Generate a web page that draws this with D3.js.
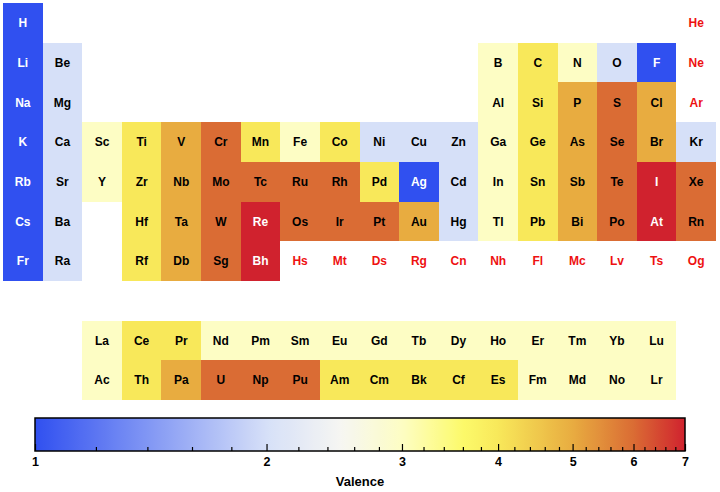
<!DOCTYPE html>
<html lang="en">

<head>
  <meta charset="UTF-8">
  <script src="https://d3js.org/d3.v7.min.js"></script>
  <style>
    html, body {
      padding: 0px;
      margin: 0px;
      background-color: white;
      font-family: "Liberation Sans", Arial, sans-serif;
    }

    .cell-label {
      font-size: 12px;
      font-weight: bold;
    }

    .colorbar .tick text {
      font-size: 12.5px;
      font-weight: bold;
      font-family: "Liberation Sans", Arial, sans-serif;
    }
  </style>
</head>

<body>
  <svg id="plot-svg" width="720" height="492"></svg>

  <script>
    // element data: symbol, group (column), row (8 = f-block gap, 9/10 = Ln/An), valence
    const symbols = [
      "H", "He",
      "Li", "Be", "B", "C", "N", "O", "F", "Ne",
      "Na", "Mg", "Al", "Si", "P", "S", "Cl", "Ar",
      "K", "Ca", "Sc", "Ti", "V", "Cr", "Mn", "Fe", "Co", "Ni", "Cu", "Zn", "Ga", "Ge", "As", "Se", "Br", "Kr",
      "Rb", "Sr", "Y", "Zr", "Nb", "Mo", "Tc", "Ru", "Rh", "Pd", "Ag", "Cd", "In", "Sn", "Sb", "Te", "I", "Xe",
      "Cs", "Ba", "Hf", "Ta", "W", "Re", "Os", "Ir", "Pt", "Au", "Hg", "Tl", "Pb", "Bi", "Po", "At", "Rn",
      "Fr", "Ra", "Rf", "Db", "Sg", "Bh", "Hs", "Mt", "Ds", "Rg", "Cn", "Nh", "Fl", "Mc", "Lv", "Ts", "Og",
      "La", "Ce", "Pr", "Nd", "Pm", "Sm", "Eu", "Gd", "Tb", "Dy", "Ho", "Er", "Tm", "Yb", "Lu",
      "Ac", "Th", "Pa", "U", "Np", "Pu", "Am", "Cm", "Bk", "Cf", "Es", "Fm", "Md", "No", "Lr"
    ];
    const groups = [
      1, 18,
      1, 2, 13, 14, 15, 16, 17, 18,
      1, 2, 13, 14, 15, 16, 17, 18,
      1, 2, 3, 4, 5, 6, 7, 8, 9, 10, 11, 12, 13, 14, 15, 16, 17, 18,
      1, 2, 3, 4, 5, 6, 7, 8, 9, 10, 11, 12, 13, 14, 15, 16, 17, 18,
      1, 2, 4, 5, 6, 7, 8, 9, 10, 11, 12, 13, 14, 15, 16, 17, 18,
      1, 2, 4, 5, 6, 7, 8, 9, 10, 11, 12, 13, 14, 15, 16, 17, 18,
      3, 4, 5, 6, 7, 8, 9, 10, 11, 12, 13, 14, 15, 16, 17,
      3, 4, 5, 6, 7, 8, 9, 10, 11, 12, 13, 14, 15, 16, 17
    ];
    const rows = [
      1, 1,
      2, 2, 2, 2, 2, 2, 2, 2,
      3, 3, 3, 3, 3, 3, 3, 3,
      4, 4, 4, 4, 4, 4, 4, 4, 4, 4, 4, 4, 4, 4, 4, 4, 4, 4,
      5, 5, 5, 5, 5, 5, 5, 5, 5, 5, 5, 5, 5, 5, 5, 5, 5, 5,
      6, 6, 6, 6, 6, 6, 6, 6, 6, 6, 6, 6, 6, 6, 6, 6, 6,
      7, 7, 7, 7, 7, 7, 7, 7, 7, 7, 7, 7, 7, 7, 7, 7, 7,
      9, 9, 9, 9, 9, 9, 9, 9, 9, 9, 9, 9, 9, 9, 9,
      10, 10, 10, 10, 10, 10, 10, 10, 10, 10, 10, 10, 10, 10, 10
    ];
    const valence = [
      1, null,
      1, 2, 3, 4, 3, 2, 1, null,
      1, 2, 3, 4, 5, 6, 5, null,
      1, 2, 3, 4, 5, 6, 4, 3, 4, 2, 2, 2, 3, 4, 5, 6, 5, 2,
      1, 2, 3, 4, 5, 6, 6, 6, 6, 4, 1, 2, 3, 4, 5, 6, 7, 6,
      1, 2, 4, 5, 6, 7, 6, 6, 6, 5, 2, 3, 4, 5, 6, 7, 6,
      1, 2, 4, 5, 6, 7, null, null, null, null, null, null, null, null, null, null, null,
      3, 4, 4, 3, 3, 3, 3, 3, 3, 3, 3, 3, 3, 3, 3,
      3, 4, 5, 6, 6, 6, 4, 4, 4, 4, 4, 3, 3, 3, 3
    ];

    // colour bar
    const valenceDomain = [1, 7];
    const majorTicks = [1, 2, 3, 4, 5, 6, 7];
    const minorTicks = [1.2, 1.4, 1.6, 1.8, 2.2, 2.4, 2.6, 2.8, 3.2, 3.4, 3.6, 3.8,
      4.2, 4.4, 4.6, 4.8, 5.2, 5.4, 5.6, 5.8, 6.2, 6.4, 6.6, 6.8];
    const colorStops = [1, 2, 2.5, 3, 3.6, 4, 5, 6, 7];
    const colorRange = ["#3050f0", "#d6e0f8", "#f6f6f2", "#fdfdc4", "#fcfa6a",
      "#f8e85a", "#e8ac40", "#da6c34", "#d0222e"];

    const data = symbols.map((s, i) => ({ symbol: s, group: groups[i], row: rows[i], value: valence[i] }));

    const svg = d3.select("#plot-svg");

    const x = d3.scaleBand().domain(d3.range(1, 19)).range([3, 716]);
    const y = d3.scaleBand().domain(d3.range(1, 11)).range([3, 400]);

    const color = d3.scaleLog().domain(colorStops).range(colorRange)
      .interpolate(d3.interpolateRgb).clamp(true);

    // snap cell edges to whole pixels so neighbours don't leave seams
    const x0 = d => Math.round(x(d.group));
    const x1 = d => Math.round(x(d.group) + x.bandwidth());
    const y0 = d => Math.round(y(d.row));
    const y1 = d => Math.round(y(d.row) + y.bandwidth());

    // cells
    const cells = svg.append("g").attr("id", "cells");
    cells.selectAll("rect")
      .data(data.filter(d => d.value !== null))
      .join("rect")
      .attr("x", x0)
      .attr("y", y0)
      .attr("width", d => x1(d) - x0(d))
      .attr("height", d => y1(d) - y0(d))
      .attr("shape-rendering", "crispEdges")
      .attr("fill", d => color(d.value));

    cells.selectAll("text")
      .data(data)
      .join("text")
      .attr("class", "cell-label")
      .attr("x", d => x(d.group) + x.bandwidth() / 2)
      .attr("y", d => y(d.row) + y.bandwidth() / 2)
      .attr("dy", "0.36em")
      .attr("text-anchor", "middle")
      .attr("fill", d => d.value === null ? "#ee1111" : (d.value === 1 || d.value === 7) ? "white" : "black")
      .text(d => d.symbol);

    // colour bar with log axis
    const cb = { left: 35, right: 685, top: 418, bottom: 451 };
    const cbScale = d3.scaleLog().domain(valenceDomain).range([cb.left, cb.right]);

    const grad = svg.append("defs").append("linearGradient")
      .attr("id", "cb-grad")
      .attr("x1", "0%").attr("x2", "100%").attr("y1", "0%").attr("y2", "0%");
    grad.selectAll("stop")
      .data(d3.range(0, 101))
      .join("stop")
      .attr("offset", d => d + "%")
      .attr("stop-color", d => color(cbScale.invert(cb.left + (cb.right - cb.left) * d / 100)));

    svg.append("rect")
      .attr("x", cb.left)
      .attr("y", cb.top)
      .attr("width", cb.right - cb.left)
      .attr("height", cb.bottom - cb.top)
      .attr("fill", "url(#cb-grad)")
      .attr("stroke", "black")
      .attr("stroke-width", 1.5);

    const minorAxis = d3.axisBottom(cbScale).tickValues(minorTicks).tickSize(-4).tickFormat("");
    const majorAxis = d3.axisBottom(cbScale).tickValues(majorTicks).tickSize(-7).tickPadding(6)
      .tickFormat(d3.format("d"));

    svg.append("g").attr("class", "colorbar")
      .attr("transform", `translate(0, ${cb.bottom})`)
      .call(minorAxis)
      .call(g => g.select(".domain").remove())
      .call(g => g.selectAll(".tick line").attr("stroke-width", 1.2));

    svg.append("g").attr("class", "colorbar")
      .attr("transform", `translate(0, ${cb.bottom})`)
      .call(majorAxis)
      .call(g => g.select(".domain").remove())
      .call(g => g.selectAll(".tick line").attr("stroke-width", 1.2))
      .call(g => g.selectAll(".tick text").attr("fill", "black"));

    svg.append("text")
      .attr("x", (cb.left + cb.right) / 2)
      .attr("y", 486)
      .attr("text-anchor", "middle")
      .style("font-size", "13px")
      .style("font-weight", "bold")
      .text("Valence");
  </script>
</body>

</html>
